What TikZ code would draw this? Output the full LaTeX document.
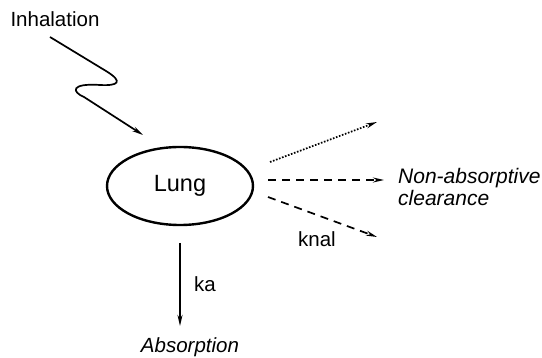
\documentclass[tikz,border=0pt]{standalone}
\usepackage{fontspec}
\setmainfont{Liberation Sans}
\usetikzlibrary{arrows.meta,shapes.geometric}
\begin{document}
\begin{tikzpicture}[x=1pt,y=-1pt,
  lbl/.style={font=\fontsize{20.5}{23}\selectfont, inner sep=0pt},
  flow/.style={line width=1.7pt, -{Stealth[length=11pt,width=5pt]}},
  dashflow/.style={flow, dash pattern=on 8pt off 6pt},
  dotflow/.style={flow, dash pattern=on 1.6pt off 1.6pt}]
  \useasboundingbox (0,0) rectangle (542,358);
  % compartment
  \node[ellipse, draw, line width=2.4pt, minimum width=146pt, minimum height=78pt,
        font=\fontsize{23.5}{26}\selectfont] (lung) at (180,186) {Lung};
  % dosing route
  \node[lbl] (inh) at (55,19) {Inhalation};
  \coordinate (wstart) at (50,37);
  \coordinate (wend) at (143,135);
  \draw[flow] (wstart) -- (106,71) .. controls (124,82) and (118,86) .. (100,85)
     .. controls (70,83) and (72,92) .. (84,97) -- (wend);
  % absorption
  \coordinate (absTop) at (180,243);
  \node[lbl, font=\fontsize{20.5}{23}\selectfont\itshape] (abs) at (190,347) {Absorption};
  \draw[flow] (absTop) -- (180,326);
  \node[lbl] (ka) at (205,284) {ka};
  % non-absorptive clearance
  \coordinate (c1s) at (270,162);
  \coordinate (c1e) at (377,122);
  \coordinate (c2s) at (268,180);
  \coordinate (c2e) at (384,180);
  \coordinate (c3s) at (268,197);
  \coordinate (c3e) at (377,237);
  \draw[dotflow] (c1s) -- (c1e);
  \draw[dashflow] (c2s) -- (c2e);
  \draw[dashflow] (c3s) -- (c3e);
  \node[lbl, align=left, anchor=west, font=\fontsize{21}{22}\selectfont\itshape] (nac) at (398,187) {Non-absorptive\\clearance};
  \node[lbl] (knal) at (317,239) {knal};
\end{tikzpicture}
\end{document}
